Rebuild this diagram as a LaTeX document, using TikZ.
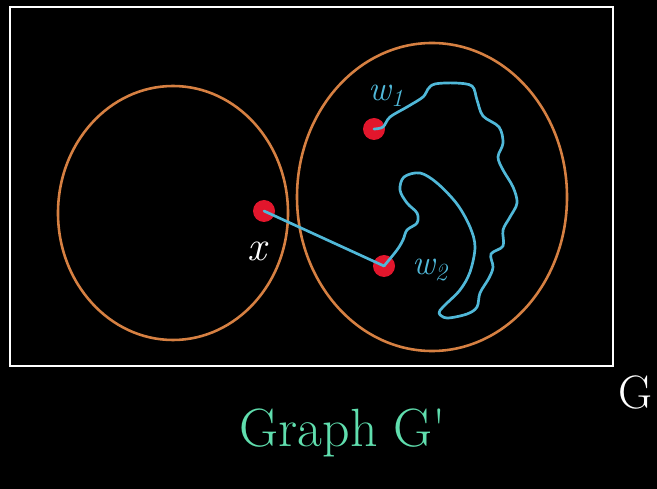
\documentclass[tikz,border=0pt]{standalone}
\usepackage{amsmath, amssymb}
\usepackage{tikz}

\definecolor{setorange}{RGB}{214,128,66}
\definecolor{pathcyan}{RGB}{80,184,216}
\definecolor{dotred}{RGB}{226,22,44}
\definecolor{titlegreen}{RGB}{96,222,174}

\tikzset{
  vertex/.style={circle, fill=dotred, minimum size=0.66cm, inner sep=0pt},
  walk/.style={pathcyan, line width=2.3pt, line cap=round, line join=round},
  blob/.style={setorange, line width=2.2pt},
}

\begin{document}
\begin{tikzpicture}[x=0.03cm, y=-0.03cm]
    \fill[black] (0,0) rectangle (657,489);
    \useasboundingbox (0,0) rectangle (657,489);

    \draw[white, line width=1.8pt] (10,7) rectangle (613,366);

    \draw[blob] (173,213) ellipse [x radius=115, y radius=127];
    \draw[blob] (432,197) ellipse [x radius=135, y radius=154];

    \node[vertex] (x) at (264,211) {};
    \node[vertex] (w1) at (374,129) {};
    \node[vertex] (w2) at (384,266) {};

    \node[white, font=\fontsize{36}{40}\selectfont\itshape] (xlab) at (257,251) {x};
    \node[pathcyan, font=\fontsize{30}{34}\selectfont\itshape] (w1lab) at (386,96) {w\textsubscript{1}};
    \node[pathcyan, font=\fontsize{30}{34}\selectfont\itshape] (w2lab) at (430,270) {w\textsubscript{2}};

    \draw[walk] (x.center) -- (w2.center);
    \draw[walk] plot[smooth, tension=0.55] coordinates {(w1.center) (383,127) (390,117) (407,107) (423,97) (428,89) (435,84)
        (455,83) (472,86) (477,100) (483,116) (499,127) (503,143) (498,157) (503,170) (513,187) (517,203)
        (510,217) (503,230) (503,246) (491,254) (493,267) (489,278) (480,293) (477,307) (467,314) (447,318)
        (439,313) (444,306) (460,290) (470,272) (475,247) (470,227) (457,204) (437,183) (420,173) (404,177)
        (400,190) (407,203) (417,213) (417,223) (407,230) (403,240) (397,250) (w2.center)};

    \node[titlegreen, font=\fontsize{46}{52}\selectfont] (title) at (343,433) {Graph G\textquotesingle};
    \node[white, font=\fontsize{40}{48}\selectfont, anchor=east] (cut) at (657,392) {G};
\end{tikzpicture}
\end{document}
